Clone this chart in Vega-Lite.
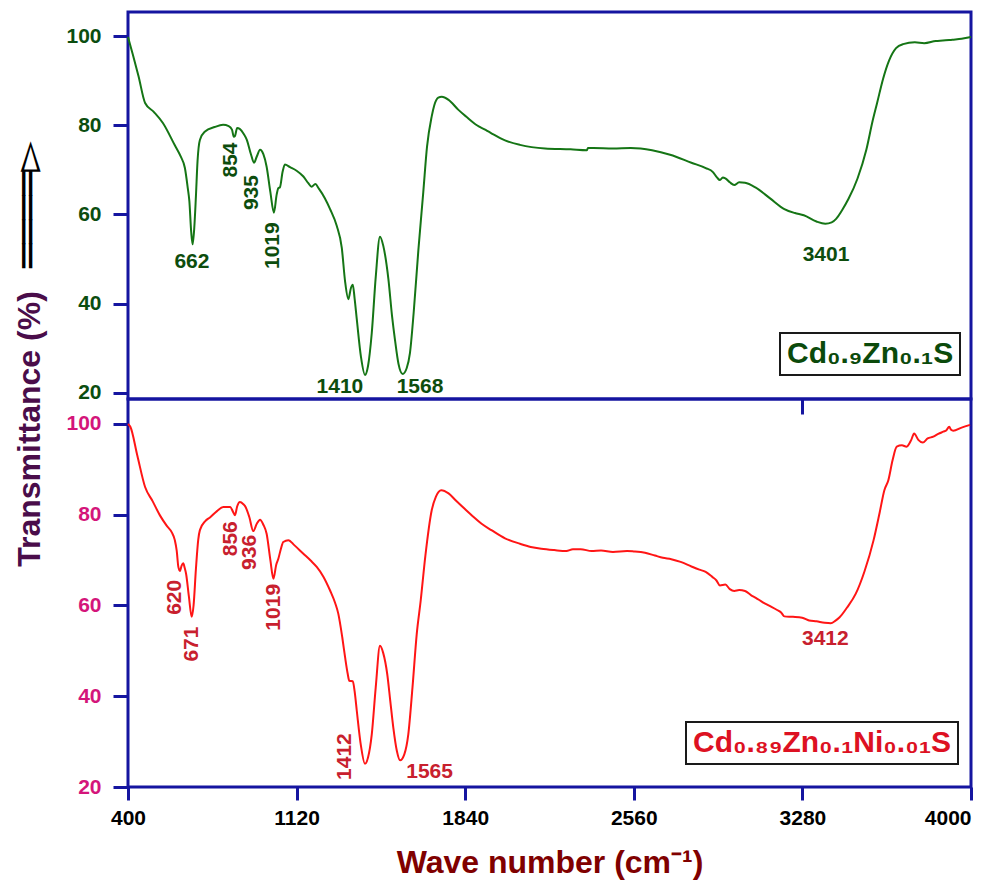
{
  "$schema": "https://vega.github.io/schema/vega-lite/v6.json",
  "background": "white",
  "padding": {"left": 6, "top": 10, "right": 10, "bottom": 5},
  "bounds": "flush",
  "spacing": 0,
  "config": {
    "view": {"stroke": "#1515a0", "strokeWidth": 3},
    "axis": {"grid": false, "domain": false, "tickColor": "#1515a0", "tickWidth": 3, "tickSize": 15, "labelFont": "Liberation Sans", "labelFontWeight": "bold"}
  },
  "resolve": {"scale": {"y": "independent", "stroke": "independent"}, "legend": {"stroke": "independent"}},
  "datasets": {
    "topCurve": [
      {"wn":400,"t":99.8},{"wn":420,"t":96},{"wn":445,"t":91},{"wn":473,"t":85.0},{"wn":510,"t":83},{"wn":549,"t":80.5},{"wn":600,"t":75.5},{"wn":625,"t":73},{"wn":643,"t":70.4},{"wn":655,"t":66},{"wn":662,"t":63},{"wn":670,"t":56},{"wn":676,"t":53.3},{"wn":683,"t":57},{"wn":690,"t":64.0},{"wn":697,"t":72},{"wn":707,"t":76.7},{"wn":729,"t":78.6},{"wn":770,"t":79.6},{"wn":806,"t":80.1},{"wn":830,"t":79.8},{"wn":844,"t":79.0},{"wn":852,"t":77.4},{"wn":857,"t":77.6},{"wn":866,"t":79.4},{"wn":877,"t":79.2},{"wn":895,"t":78.0},{"wn":907,"t":76.8},{"wn":925,"t":73.5},{"wn":938,"t":71.6},{"wn":950,"t":73},{"wn":964,"t":74.5},{"wn":978,"t":73.5},{"wn":992,"t":70.7},{"wn":1008,"t":65},{"wn":1023,"t":60.4},{"wn":1035,"t":64.5},{"wn":1042,"t":65.9},{"wn":1049,"t":66.1},{"wn":1060,"t":69.5},{"wn":1070,"t":71.2},{"wn":1092,"t":70.6},{"wn":1120,"t":69.8},{"wn":1149,"t":68.5},{"wn":1170,"t":67.0},{"wn":1184,"t":66.2},{"wn":1200,"t":66.8},{"wn":1215,"t":65.8},{"wn":1240,"t":63.7},{"wn":1263,"t":61.2},{"wn":1291,"t":57.5},{"wn":1313,"t":52.5},{"wn":1327,"t":45.0},{"wn":1341,"t":41.0},{"wn":1352,"t":43.5},{"wn":1360,"t":44.2},{"wn":1368,"t":41},{"wn":1377,"t":36.5},{"wn":1395,"t":28},{"wn":1412,"t":24.0},{"wn":1425,"t":26},{"wn":1441,"t":33.4},{"wn":1458,"t":46},{"wn":1476,"t":55.0},{"wn":1490,"t":53},{"wn":1512,"t":45.5},{"wn":1528,"t":37},{"wn":1540,"t":31.9},{"wn":1555,"t":26.5},{"wn":1573,"t":24.2},{"wn":1590,"t":25.5},{"wn":1604,"t":28.9},{"wn":1620,"t":38},{"wn":1640,"t":52.0},{"wn":1661,"t":65},{"wn":1677,"t":75.2},{"wn":1697,"t":82.0},{"wn":1708,"t":84.5},{"wn":1725,"t":86.2},{"wn":1740,"t":86.4},{"wn":1769,"t":85.7},{"wn":1810,"t":83.5},{"wn":1845,"t":81.9},{"wn":1890,"t":80.0},{"wn":1929,"t":78.9},{"wn":1952,"t":78.2},{"wn":2010,"t":76.6},{"wn":2074,"t":75.6},{"wn":2181,"t":74.8},{"wn":2290,"t":74.6},{"wn":2360,"t":74.4},{"wn":2364,"t":74.9},{"wn":2387,"t":74.9},{"wn":2471,"t":74.8},{"wn":2547,"t":74.9},{"wn":2638,"t":74.4},{"wn":2715,"t":73.4},{"wn":2806,"t":71.6},{"wn":2867,"t":70.4},{"wn":2898,"t":69.5},{"wn":2915,"t":68.3},{"wn":2928,"t":67.7},{"wn":2940,"t":68.3},{"wn":2951,"t":68.1},{"wn":2970,"t":67.2},{"wn":2989,"t":66.6},{"wn":3010,"t":67.2},{"wn":3035,"t":67.1},{"wn":3081,"t":66.0},{"wn":3142,"t":63.6},{"wn":3203,"t":61.2},{"wn":3248,"t":60.3},{"wn":3286,"t":59.8},{"wn":3340,"t":58.4},{"wn":3378,"t":57.9},{"wn":3405,"t":58.2},{"wn":3424,"t":59.0},{"wn":3450,"t":61},{"wn":3477,"t":63.5},{"wn":3515,"t":68},{"wn":3553,"t":74.5},{"wn":3580,"t":81},{"wn":3599,"t":85},{"wn":3625,"t":90.5},{"wn":3650,"t":94.5},{"wn":3680,"t":97.3},{"wn":3710,"t":98.2},{"wn":3760,"t":98.6},{"wn":3800,"t":98.4},{"wn":3850,"t":98.9},{"wn":3880,"t":99.0},{"wn":3920,"t":99.2},{"wn":3960,"t":99.4},{"wn":4000,"t":99.8}
    ],
    "bottomCurve": [
      {"wn":400,"t":100},{"wn":410,"t":99.4},{"wn":440,"t":93},{"wn":473,"t":86.1},{"wn":505,"t":83},{"wn":537,"t":79.8},{"wn":565,"t":77.6},{"wn":587,"t":76.1},{"wn":600,"t":74.4},{"wn":608,"t":72.1},{"wn":615,"t":68.5},{"wn":622,"t":67.6},{"wn":629,"t":68.8},{"wn":636,"t":69.3},{"wn":642,"t":68.3},{"wn":648,"t":67},{"wn":660,"t":62},{"wn":672,"t":57.5},{"wn":680,"t":60},{"wn":690,"t":68},{"wn":700,"t":74.5},{"wn":707,"t":76.6},{"wn":730,"t":78.6},{"wn":750,"t":79.4},{"wn":780,"t":80.8},{"wn":807,"t":81.7},{"wn":836,"t":81.7},{"wn":850,"t":80.5},{"wn":857,"t":79.9},{"wn":866,"t":81.8},{"wn":878,"t":82.8},{"wn":893,"t":82.3},{"wn":900,"t":81.9},{"wn":918,"t":79.5},{"wn":935,"t":76.4},{"wn":950,"t":78},{"wn":964,"t":78.9},{"wn":978,"t":77.8},{"wn":992,"t":75.8},{"wn":1008,"t":70},{"wn":1021,"t":65.9},{"wn":1033,"t":69},{"wn":1042,"t":70.3},{"wn":1053,"t":72.5},{"wn":1063,"t":74.0},{"wn":1085,"t":74.4},{"wn":1110,"t":73.3},{"wn":1149,"t":71.4},{"wn":1180,"t":69.9},{"wn":1206,"t":68.5},{"wn":1235,"t":66.3},{"wn":1263,"t":63.3},{"wn":1285,"t":60.5},{"wn":1298,"t":58.2},{"wn":1315,"t":53},{"wn":1327,"t":48.6},{"wn":1338,"t":45},{"wn":1345,"t":43.4},{"wn":1360,"t":43.3},{"wn":1368,"t":41},{"wn":1377,"t":36.8},{"wn":1395,"t":29},{"wn":1412,"t":25.1},{"wn":1425,"t":26.5},{"wn":1441,"t":31.6},{"wn":1458,"t":42},{"wn":1476,"t":51.1},{"wn":1490,"t":49.5},{"wn":1507,"t":44.9},{"wn":1520,"t":39},{"wn":1533,"t":33.1},{"wn":1548,"t":28},{"wn":1562,"t":25.9},{"wn":1580,"t":27.2},{"wn":1597,"t":31.6},{"wn":1615,"t":42},{"wn":1633,"t":53.7},{"wn":1650,"t":61.1},{"wn":1670,"t":71},{"wn":1697,"t":81.0},{"wn":1715,"t":84},{"wn":1738,"t":85.4},{"wn":1769,"t":84.7},{"wn":1799,"t":83.2},{"wn":1840,"t":81.2},{"wn":1876,"t":79.5},{"wn":1910,"t":78.0},{"wn":1952,"t":76.6},{"wn":2010,"t":74.8},{"wn":2074,"t":73.6},{"wn":2120,"t":72.9},{"wn":2165,"t":72.5},{"wn":2220,"t":72.2},{"wn":2272,"t":72.0},{"wn":2300,"t":72.4},{"wn":2333,"t":72.4},{"wn":2380,"t":72.0},{"wn":2420,"t":72.1},{"wn":2471,"t":71.8},{"wn":2531,"t":72.0},{"wn":2560,"t":71.9},{"wn":2608,"t":71.6},{"wn":2650,"t":71.0},{"wn":2684,"t":70.5},{"wn":2720,"t":70.2},{"wn":2760,"t":69.6},{"wn":2806,"t":68.6},{"wn":2840,"t":67.9},{"wn":2867,"t":67.4},{"wn":2895,"t":66.3},{"wn":2913,"t":65.5},{"wn":2928,"t":64.4},{"wn":2951,"t":64.6},{"wn":2970,"t":63.6},{"wn":2989,"t":63.2},{"wn":3010,"t":63.4},{"wn":3035,"t":63.2},{"wn":3060,"t":62.3},{"wn":3081,"t":61.7},{"wn":3111,"t":60.7},{"wn":3140,"t":59.9},{"wn":3172,"t":59.0},{"wn":3190,"t":58.4},{"wn":3203,"t":57.6},{"wn":3240,"t":57.5},{"wn":3279,"t":57.3},{"wn":3309,"t":56.7},{"wn":3340,"t":56.5},{"wn":3375,"t":56.2},{"wn":3401,"t":56.1},{"wn":3420,"t":56.6},{"wn":3439,"t":57.4},{"wn":3470,"t":59.5},{"wn":3508,"t":62.6},{"wn":3545,"t":67.5},{"wn":3584,"t":74.4},{"wn":3610,"t":80.5},{"wn":3630,"t":85.4},{"wn":3647,"t":87.6},{"wn":3665,"t":92},{"wn":3683,"t":95.0},{"wn":3705,"t":95.3},{"wn":3725,"t":95.0},{"wn":3745,"t":96.5},{"wn":3757,"t":97.9},{"wn":3775,"t":96.5},{"wn":3794,"t":95.9},{"wn":3815,"t":96.8},{"wn":3839,"t":97.2},{"wn":3860,"t":97.8},{"wn":3882,"t":98.3},{"wn":3895,"t":98.6},{"wn":3907,"t":99.4},{"wn":3915,"t":98.7},{"wn":3924,"t":98.5},{"wn":3960,"t":99.2},{"wn":3996,"t":99.8}
    ],
    "topPeaksH": [
      {"wn":673,"t":49.4,"label":"662"},{"wn":1305,"t":21.3,"label":"1410"},{"wn":1647,"t":21.3,"label":"1568"},{"wn":3381,"t":50.9,"label":"3401"}
    ],
    "topPeaksV": [
      {"wn":840,"t":72.2,"label":"854"},{"wn":928,"t":64.9,"label":"935"},{"wn":1020,"t":53.0,"label":"1019"}
    ],
    "bottomPeaksH": [
      {"wn":1688,"t":23.3,"label":"1565"},{"wn":3378,"t":52.6,"label":"3412"}
    ],
    "bottomPeaksV": [
      {"wn":599,"t":61.8,"label":"620"},{"wn":672,"t":51.5,"label":"671"},{"wn":840,"t":74.7,"label":"856"},{"wn":923,"t":71.7,"label":"936"},{"wn":1023,"t":59.6,"label":"1019"},{"wn":1328,"t":26.7,"label":"1412"}
    ]
  },
  "vconcat": [
    {
      "width": 843,
      "height": 387,
      "encoding": {
        "x": {"field": "wn", "type": "quantitative", "scale": {"domain": [400, 4000], "nice": false, "zero": false},
              "axis": {"values": [3280], "labels": false, "title": null, "tickSize": 15}},
        "y": {"field": "t", "type": "quantitative", "scale": {"domain": [18.6, 105.4], "nice": false, "zero": false},
              "axis": {"values": [20, 40, 60, 80, 100], "labelColor": "#0b4d10", "labelFontSize": 21, "labelPadding": 12,
                       "title": "════▻", "titleFont": "DejaVu Sans", "titleFontSize": 40, "titleFontWeight": "normal", "titleColor": "#000000",
                       "titleAngle": 270, "titleX": -100, "titleY": 192, "titleAlign": "center", "titleBaseline": "middle"}}
      },
      "layer": [
        {
          "data": {"name": "topCurve"},
          "transform": [{"calculate": "'Cd₀.₉Zn₀.₁S'", "as": "sample"}],
          "mark": {"type": "line", "strokeWidth": 2, "interpolate": "monotone"},
          "encoding": {
            "stroke": {"field": "sample", "type": "nominal", "scale": {"range": ["#157515"]},
              "legend": {"orient": "none", "legendX": 652, "legendY": 321, "title": null, "labelFont": "Liberation Sans", "labelFontWeight": "bold", "labelFontSize": 30, "labelColor": "#0b4a0b", "labelLimit": 500, "labelOffset": -29, "symbolType": "circle", "symbolSize": 0, "symbolOffset": 0, "symbolOpacity": 0, "symbolStrokeWidth": 0, "padding": 6, "strokeColor": "#1a1a1a", "fillColor": "white",
                "encode": {"legend": {"update": {"strokeWidth": {"value": 2}}}}}}
          }
        },
        {
          "data": {"name": "topPeaksH"},
          "mark": {"type": "text", "font": "Liberation Sans", "fontWeight": "bold", "fontSize": 21, "color": "#0d4d0d", "align": "center", "baseline": "middle"},
          "encoding": {"text": {"field": "label"}}
        },
        {
          "data": {"name": "topPeaksV"},
          "mark": {"type": "text", "font": "Liberation Sans", "fontWeight": "bold", "fontSize": 21, "color": "#0d4d0d", "align": "center", "baseline": "middle", "angle": 270},
          "encoding": {"text": {"field": "label"}}
        }
      ]
    },
    {
      "width": 843,
      "height": 388,
      "encoding": {
        "x": {"field": "wn", "type": "quantitative", "scale": {"domain": [400, 4000], "nice": false, "zero": false},
              "axis": {"values": [400, 1120, 1840, 2560, 3280, 4000], "format": "d", "tickSize": 13, "labelFont": "Liberation Sans Narrow, Liberation Sans, sans-serif", "labelFontWeight": "bold", "labelFontSize": 21, "labelColor": "#000000", "labelPadding": 7,
                       "labelAlign": {"condition": {"test": "datum.value == 4000", "value": "right"}, "value": "center"},
                       "title": "Wave number (cm⁻¹)", "titleFont": "Liberation Sans Narrow, Liberation Sans, sans-serif", "titleFontWeight": "bold", "titleFontSize": 32, "titleColor": "#800000", "titleY": 75, "titleBaseline": "middle"}},
        "y": {"field": "t", "type": "quantitative", "scale": {"domain": [20, 105.5], "nice": false, "zero": false},
              "axis": {"values": [20, 40, 60, 80, 100], "labelColor": "#d4157a", "labelFontSize": 21, "labelPadding": 12,
                       "title": "Transmittance (%)", "titleFont": "Liberation Sans", "titleFontSize": 32, "titleFontWeight": "bold", "titleColor": "#4a0d4a",
                       "titleAngle": 270, "titleX": -99, "titleY": 29.5, "titleAlign": "center", "titleBaseline": "middle"}}
      },
      "layer": [
        {
          "data": {"name": "bottomCurve"},
          "transform": [{"calculate": "'Cd₀.₈₉Zn₀.₁Ni₀.₀₁S'", "as": "sample"}],
          "mark": {"type": "line", "strokeWidth": 2, "interpolate": "monotone"},
          "encoding": {
            "stroke": {"field": "sample", "type": "nominal", "scale": {"range": ["#ff1515"]},
              "legend": {"orient": "none", "legendX": 558, "legendY": 323, "title": null, "labelFont": "Liberation Sans", "labelFontWeight": "bold", "labelFontSize": 30, "labelColor": "#dd1122", "labelLimit": 500, "labelOffset": -29, "symbolType": "circle", "symbolSize": 0, "symbolOffset": 0, "symbolOpacity": 0, "symbolStrokeWidth": 0, "padding": 6, "strokeColor": "#1a1a1a", "fillColor": "white",
                "encode": {"legend": {"update": {"strokeWidth": {"value": 2}}}}}}
          }
        },
        {
          "data": {"name": "bottomPeaksH"},
          "mark": {"type": "text", "font": "Liberation Sans", "fontWeight": "bold", "fontSize": 21, "color": "#c8202e", "align": "center", "baseline": "middle"},
          "encoding": {"text": {"field": "label"}}
        },
        {
          "data": {"name": "bottomPeaksV"},
          "mark": {"type": "text", "font": "Liberation Sans", "fontWeight": "bold", "fontSize": 21, "color": "#c8202e", "align": "center", "baseline": "middle", "angle": 270},
          "encoding": {"text": {"field": "label"}}
        }
      ]
    }
  ]
}
